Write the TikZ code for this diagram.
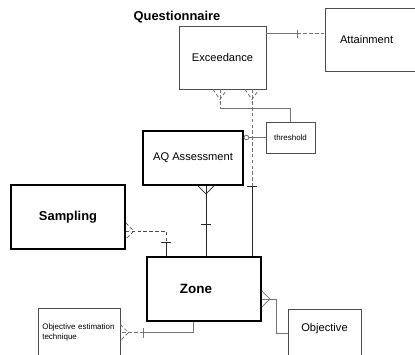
\documentclass[tikz,border=0pt]{standalone}
\usepackage{fontspec}
\setmainfont{Liberation Sans}
\usetikzlibrary{positioning,calc}

\begin{document}
\begin{tikzpicture}[
    x=0.03cm, y=-0.03cm,
    ent/.style={draw=black!70, line width=0.7pt, fill=white, align=center,
                inner sep=0pt, font=\fontsize{9.5}{11}\selectfont},
    strong/.style={ent, draw=black, line width=1.5pt},
    rel/.style={draw=black!55, line width=0.7pt},
    dep/.style={rel, densely dashed},
    key/.style={draw=black!85, line width=0.6pt},
]
  \useasboundingbox (0,0) rectangle (415,354);
  \clip (0,0) rectangle (415,354);

  % entities
  \node[font=\bfseries\fontsize{11}{13}\selectfont] (quest) at (177,17) {Questionnaire};
  \node[ent, minimum width=2.61cm, minimum height=1.89cm] (exc) at (222.5,57.5) {Exceedance};
  \node[ent, minimum width=2.76cm, minimum height=1.89cm, align=left,
        text width=1.86cm] (att) at (371,39.5) {Attainment};
  \node[ent, minimum width=1.47cm, minimum height=0.93cm,
        font=\fontsize{6.8}{8}\selectfont] (thr) at (290.5,137.5) {threshold};
  \node[strong, minimum width=3.0cm, minimum height=1.62cm] (aq) at (193,158) {AQ Assessment};
  \node[strong, minimum width=3.42cm, minimum height=1.92cm,
        font=\bfseries\fontsize{11}{13}\selectfont] (samp) at (68,217) {Sampling};
  \node[strong, minimum width=3.42cm, minimum height=1.92cm, align=left,
        text width=1.44cm, font=\bfseries\fontsize{11.5}{13}\selectfont] (zone) at (204,289) {Zone};
  \node[ent, minimum width=2.19cm, minimum height=1.44cm, text depth=10pt] (obj) at (324.5,333) {Objective};
  \node[ent, minimum width=2.46cm, minimum height=1.47cm, align=left,
        text width=2.2cm, font=\fontsize{6.8}{9}\selectfont] (oet) at (79,332.5)
        {Objective estimation\\technique};

  % Exceedance -- Attainment
  \coordinate (ea) at ($(exc.north east)+(0,8)$);
  \draw[rel] (ea) -- ++(31,0) coordinate (eat);
  \draw[rel] (eat) ++(0,-4) -- ++(0,8);
  \draw[dep] (eat) -- (eat -| att.west);

  % Exceedance -- threshold
  \coordinate (ex1) at (220,0 |- exc.south);
  \draw[dep] (ex1) ++(-7,0) -- ++(7,10) -- ++(7,-10);
  \draw[dep] (ex1) -- ++(0,19) coordinate (ex1b);
  \draw[rel] (ex1b) -| (thr.north);

  % Exceedance -- Zone
  \coordinate (ex2) at (252,0 |- exc.south);
  \draw[dep] (ex2) ++(-7,0) -- ++(7,10) -- ++(7,-10);
  \draw[dep] (ex2) -- (ex2 |- aq.south) coordinate (ex2b);
  \draw[key] (ex2b) ++(-5,0) -- ++(10,0);
  \draw[key] (ex2b) -- (ex2 |- zone.north);

  % threshold -- AQ Assessment
  \draw[rel] (thr.west) -- (thr.west -| aq.east);
  \draw[rel, fill=white] ($(thr.west -| aq.east)+(2.5,0)$) circle (2pt);

  % AQ Assessment -- Zone
  \coordinate (af) at (206,0 |- aq.south);
  \draw[key] (af) ++(-8,0) -- ++(8,8) -- ++(8,-8);
  \draw[key] (af) -- (af |- zone.north);
  \draw[key] ($(af)!0.55!(af |- zone.north)$) ++(-5,0) -- ++(10,0);

  % Sampling -- Zone
  \coordinate (sf) at ($(samp.east)+(0,14)$);
  \coordinate (sz) at (166,0 |- zone.north);
  \draw[dep, draw=black!70] (sf) ++(0,-8) -- ++(8,8) -- ++(-8,8);
  \draw[dep, draw=black!70] (sf) -| ($(sz)+(0,-14)$) coordinate (szt);
  \draw[key] (szt) ++(-5,0) -- ++(10,0);
  \draw[key] (szt) -- (sz);

  % Zone -- Objective
  \coordinate (zf) at ($(zone.east)+(0,10)$);
  \draw[rel] (zf) ++(0,-8) -- ++(8,8) -- ++(-8,8);
  \draw[rel] (zf) -- ++(15,0) |- (obj.west);

  % Zone -- Objective estimation technique
  \coordinate (zb) at (193,0 |- zone.south);
  \coordinate (ot) at ($(oet.east)+(23,0)$);
  \draw[rel] (zb) |- (ot);
  \draw[rel] (ot) ++(0,-5) -- ++(0,10);
  \draw[dep] (ot) -- (oet.east);
  \draw[dep] (oet.east) ++(0,-8) -- ++(8,8) -- ++(-8,8);
\end{tikzpicture}
\end{document}
